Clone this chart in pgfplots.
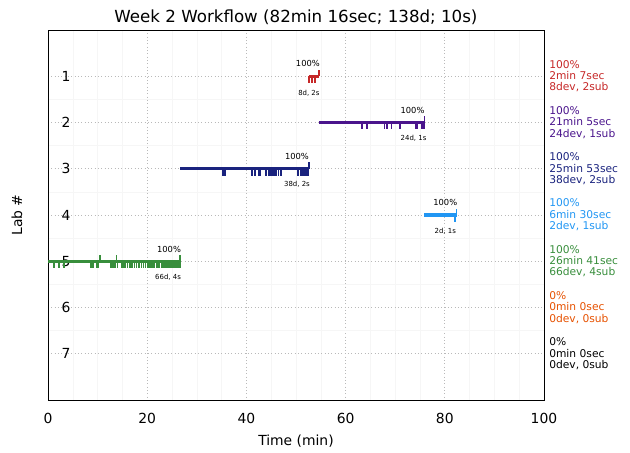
\documentclass[border=0pt]{standalone}
\usepackage{pgfplots}
\pgfplotsset{compat=1.18}
\usepackage{fontspec}
\setmainfont{DejaVu Sans}

\definecolor{labA}{HTML}{C62828}
\definecolor{labB}{HTML}{4A148C}
\definecolor{labC}{HTML}{1A237E}
\definecolor{labD}{HTML}{2196F3}
\definecolor{labE}{HTML}{388E3C}
\definecolor{labF}{HTML}{E65100}

\pgfplotsset{
  devticks/.style={mark=none, draw opacity=0, forget plot,
    error bars/.cd, y dir=plus, y fixed=0.15, error mark=none,
    error bar style={draw opacity=1, #1, line width=1pt}},
  subticks/.style={mark=none, draw opacity=0, forget plot,
    error bars/.cd, y dir=minus, y fixed=0.14, error mark=none,
    error bar style={draw opacity=1, #1, line width=1pt}},
}

\begin{document}
\begin{tikzpicture}
\useasboundingbox (-34.56pt,-38.16pt) rectangle (419.04pt,288pt);
\begin{axis}[
  scale only axis, width=357.12pt, height=266.4pt,
  xmin=0, xmax=100, ymin=0, ymax=8, y dir=reverse,
  xtick={0,20,...,100}, ytick={1,...,7},
  minor x tick num=3, minor y tick num=1,
  grid=both,
  major grid style={gray!55, dotted, line width=0.6pt},
  minor grid style={gray!7},
  tick style={draw=none},
  clip=false,
  /pgf/number format/assume math mode=true,
  tick label style={font=\fontsize{10}{12}\selectfont},
  yticklabel style={anchor=center, xshift=13pt},
  xticklabel style={yshift=-6pt},
  label style={font=\fontsize{10}{12}\selectfont},
  title style={font=\fontsize{12}{14}\selectfont, yshift=-6pt},
  title={Week 2 Workflow (82min 16sec; 138d; 10s)},
  xlabel={Time (min)}, ylabel={Lab \#},
  xlabel style={yshift=-1pt},
  ylabel style={yshift=15pt},
]
% Lab 1
\addplot[labA, line width=2.2pt] coordinates {(52.6,1) (54.7,1)};
\addplot[devticks=labA] coordinates {(52.65,1) (52.7,1) (52.75,1) (53.25,1) (53.3,1) (53.85,1) (53.9,1) (53.95,1)};
\addplot[subticks=labA] coordinates {(54.6,1) (54.7,1)};
% Lab 2
\addplot[labB, line width=2.2pt] coordinates {(54.6,2) (75.9,2)};
\addplot[devticks=labB] coordinates {(63.3,2) (63.4,2) (64.2,2) (64.3,2) (67.8,2) (67.9,2) (68.3,2) (68.4,2) (68.5,2) (69.2,2) (69.3,2) (70.9,2) (71.0,2) (71.1,2) (74.1,2) (74.2,2) (74.4,2) (74.5,2) (75.4,2) (75.5,2) (75.6,2) (75.7,2) (75.75,2) (75.8,2)};
\addplot[subticks=labB] coordinates {(75.9,2)};
% Lab 3
\addplot[labC, line width=2.2pt] coordinates {(26.7,3) (52.6,3)};
\addplot[devticks=labC] coordinates {(35.3,3) (35.4,3) (35.7,3) (35.8,3) (41.1,3) (41.2,3) (41.6,3) (41.7,3) (42.5,3) (42.6,3) (42.9,3) (43.9,3) (44.0,3) (44.4,3) (44.6,3) (44.9,3) (45.1,3) (45.3,3) (45.6,3) (45.8,3) (46.1,3) (46.5,3) (46.9,3) (47.1,3) (50.4,3) (50.5,3) (50.9,3) (51.0,3) (51.3,3) (51.5,3) (51.7,3) (51.9,3) (52.0,3) (52.1,3) (52.3,3) (52.4,3) (52.5,3) (52.55,3)};
\addplot[subticks=labC] coordinates {(52.55,3) (52.6,3)};
% Lab 4
\addplot[labD, line width=2.2pt] coordinates {(75.9,4) (82.4,4)};
\addplot[devticks=labD] coordinates {(82.0,4) (82.1,4)};
\addplot[subticks=labD] coordinates {(82.4,4)};
% Lab 5
\addplot[labE, line width=2.2pt] coordinates {(0,5) (26.7,5)};
\addplot[devticks=labE] coordinates {(1.2,5) (1.3,5) (2.2,5) (2.3,5) (3.1,5) (3.2,5) (8.6,5) (8.7,5) (9.1,5) (9.9,5) (10.0,5) (10.2,5) (12.7,5) (13.0,5) (13.3,5) (13.6,5) (14.0,5) (14.8,5) (15.0,5) (15.3,5) (15.6,5) (16.0,5) (16.4,5) (16.7,5) (17.0,5) (17.4,5) (17.8,5) (18.2,5) (18.5,5) (18.9,5) (19.3,5) (19.7,5) (20.0,5) (20.2,5) (20.6,5) (20.9,5) (21.2,5) (21.5,5) (21.9,5) (22.2,5) (22.5,5) (22.9,5) (23.2,5) (23.5,5) (23.7,5) (24.0,5) (24.2,5) (24.4,5) (24.6,5) (24.8,5) (25.0,5) (25.2,5) (25.4,5) (25.6,5) (25.8,5) (25.9,5) (26.0,5) (26.1,5) (26.2,5) (26.3,5) (26.35,5) (26.4,5) (26.45,5) (26.5,5) (26.55,5) (26.6,5)};
\addplot[subticks=labE] coordinates {(10.5,5) (13.8,5) (26.6,5) (26.7,5)};

% annotations above/below the bars
\begin{scope}[font=\fontsize{6}{7}\selectfont]
\node at (axis cs:52.4,0.73) {100\%};
\node at (axis cs:73.5,1.73) {100\%};
\node at (axis cs:50.2,2.74) {100\%};
\node at (axis cs:80.1,3.73) {100\%};
\node at (axis cs:24.4,4.74) {100\%};
\end{scope}
\begin{scope}[font=\fontsize{5}{6}\selectfont]
\node at (axis cs:52.6,1.36) {8d, 2s};
\node at (axis cs:73.7,2.34) {24d, 1s};
\node at (axis cs:50.2,3.34) {38d, 2s};
\node at (axis cs:80.1,4.35) {2d, 1s};
\node at (axis cs:24.2,5.35) {66d, 4s};
\end{scope}

% summary column on the right
\begin{scope}[every node/.style={anchor=west, align=left, inner sep=0pt, xshift=3.6pt, font=\fontsize{7.7}{8.2}\selectfont}]
\node[text=labA] at (axis cs:100,1) {100\%\\2min 7sec\\8dev, 2sub};
\node[text=labB] at (axis cs:100,2) {100\%\\21min 5sec\\24dev, 1sub};
\node[text=labC] at (axis cs:100,3) {100\%\\25min 53sec\\38dev, 2sub};
\node[text=labD] at (axis cs:100,4) {100\%\\6min 30sec\\2dev, 1sub};
\node[text=labE] at (axis cs:100,5) {100\%\\26min 41sec\\66dev, 4sub};
\node[text=labF] at (axis cs:100,6) {0\%\\0min 0sec\\0dev, 0sub};
\node[text=black] at (axis cs:100,7) {0\%\\0min 0sec\\0dev, 0sub};
\end{scope}
\end{axis}
\end{tikzpicture}
\end{document}
